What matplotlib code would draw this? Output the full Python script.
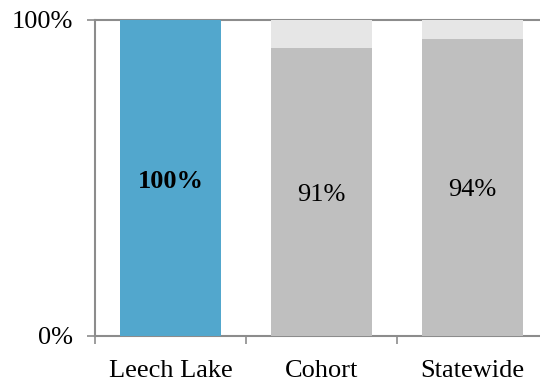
import numpy as np
import matplotlib
matplotlib.use('Agg')
import matplotlib.pyplot as plt
from matplotlib.ticker import FixedLocator
from matplotlib.transforms import offset_copy

categories = ['Leech Lake', 'Cohort', 'Statewide']
values = [100, 91, 94]
bar_colors = ['#52A7CD', '#BFBFBF', '#BFBFBF']
rest_colors = ['#52A7CD', '#E6E6E6', '#E6E6E6']
label_bold = [True, False, False]

plt.rcParams['font.family'] = ['Liberation Serif', 'DejaVu Serif']

fig = plt.figure(figsize=(5.4, 3.81), dpi=100)
# axes in pixel terms: left 95, right beyond image edge, top 20, bottom 336
W, H = 540, 381
ax = fig.add_axes([95 / W, (H - 336) / H, (548 - 95) / W, (336 - 20) / H])

x = np.arange(len(categories))
ax.bar(x, [100] * len(values), width=0.665, color=rest_colors, zorder=2)
ax.bar(x, values, width=0.665, color=bar_colors, zorder=3)

shifted = offset_copy(ax.transData, fig=fig, x=0, y=-3, units='dots')
for xi, v, b in zip(x, values, label_bold):
    ax.text(xi, v / 2, f'{v}%', ha='center', va='center', fontsize=19,
            fontweight='bold' if b else 'normal', color='black', zorder=4,
            transform=shifted)

ax.set_xlim(-0.5, 2.5)
ax.set_ylim(0, 100)
ax.set_yticks([0, 100])
ax.set_yticklabels(['0%', '100%'])
ax.set_xticks(x)
ax.set_xticklabels(categories)
ax.tick_params(axis='x', which='major', length=0, pad=17, labelsize=19)
ax.xaxis.set_minor_locator(FixedLocator([-0.5, 0.5, 1.5]))
ax.tick_params(axis='x', which='minor', length=6, color='#8C8C8C', width=1.2)
ax.tick_params(axis='y', length=6, color='#8C8C8C', width=1.2, labelsize=19, pad=10)

ax.axhline(100, color='#8C8C8C', lw=1.5, zorder=1, clip_on=False)
for s in ['left', 'bottom']:
    ax.spines[s].set_color('#8C8C8C')
    ax.spines[s].set_linewidth(1.5)
for s in ['top', 'right']:
    ax.spines[s].set_visible(False)

fig.savefig('out.png', dpi=100)
